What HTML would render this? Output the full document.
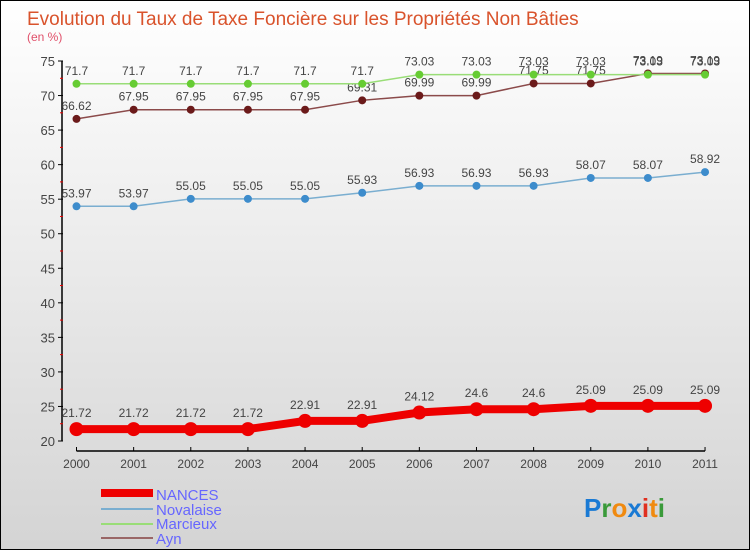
<!DOCTYPE html>
<html><head><meta charset="utf-8"><style>
body{margin:0}
#c{position:relative;width:750px;height:550px;box-sizing:border-box;border:1px solid #000;background:linear-gradient(#ffffff,#d4d4d4);font-family:"Liberation Sans",sans-serif;overflow:hidden}
</style></head><body>
<div id="c">
<svg id="s" width="750" height="550" style="position:absolute;left:0;top:0">
<text x="26" y="24" font-size="19" fill="#d9532c">Evolution du Taux de Taxe Foncière sur les Propriétés Non Bâties</text>
<text x="26" y="40" font-size="12" fill="#e0506a">(en %)</text>
<g id="axes"></g><g id="series"></g>
<g>
<rect x="100" y="488" width="52" height="8" fill="#e00"/>
<text x="155" y="499" font-size="15" fill="#6666ff">NANCES</text>
<rect x="100" y="507" width="52" height="2" fill="#7aaed0"/>
<text x="155" y="514" font-size="15" fill="#6666ff">Novalaise</text>
<rect x="100" y="522" width="52" height="2" fill="#99dd77"/>
<text x="155" y="528" font-size="15" fill="#6666ff">Marcieux</text>
<rect x="100" y="536" width="52" height="2" fill="#996666"/>
<text x="155" y="543" font-size="15" fill="#6666ff">Ayn</text>
</g>
<g font-size="26" font-weight="bold">
<text x="583" y="516"><tspan fill="#1a7ad4">P</tspan><tspan fill="#3a9a3a">r</tspan><tspan fill="#f08a10">o</tspan><tspan fill="#1a7ad4">x</tspan><tspan fill="#e03020">i</tspan><tspan fill="#f08a10">t</tspan><tspan fill="#3a9a3a">i</tspan></text>
</g>
</svg>
</div>
<script>
const years=["2000","2001","2002","2003","2004","2005","2006","2007","2008","2009","2010","2011"];
const yTicks=[20,25,30,35,40,45,50,55,60,65,70,75];
const nances=[21.72,21.72,21.72,21.72,22.91,22.91,24.12,24.6,24.6,25.09,25.09,25.09];
const novalaise=[53.97,53.97,55.05,55.05,55.05,55.93,56.93,56.93,56.93,58.07,58.07,58.92];
const marcieux=[71.7,71.7,71.7,71.7,71.7,71.7,73.03,73.03,73.03,73.03,73.03,73.03];
const ayn=[66.62,67.95,67.95,67.95,67.95,69.31,69.99,69.99,71.75,71.75,73.19,73.19];
const NS="http://www.w3.org/2000/svg";
const X=i=>75.5+i*57.14;
const Y=v=>440-(v-20)*(380/55);
function mk(t,a,p){const e=document.createElementNS(NS,t);for(const k in a)e.setAttribute(k,a[k]);p.appendChild(e);return e;}
const ax=document.getElementById('axes');
let yl=mk('line',{x1:61,y1:Y(20),x2:61,y2:Y(75),stroke:'#000','stroke-width':1.5},ax);


yTicks.forEach(t=>{
 mk('line',{x1:57,y1:Y(t),x2:62,y2:Y(t),stroke:'#000'},ax);
 if(t<75)mk('line',{x1:59,y1:Y(t+2.5),x2:62,y2:Y(t+2.5),stroke:'#e00'},ax);
 const tx=mk('text',{x:54,y:Y(t)+5,'text-anchor':'end','font-size':13,fill:'#444'},ax);
 tx.textContent=t;
 
 
});
let xl=mk('line',{x1:X(0),y1:450,x2:X(11),y2:450,stroke:'#000','stroke-width':1.5},ax);


years.forEach((y,i)=>{
 mk('line',{x1:X(i),y1:446,x2:X(i),y2:450,stroke:'#000'},ax);
 const tx=mk('text',{x:X(i),y:467,'text-anchor':'middle','font-size':12,fill:'#444'},ax);
 tx.textContent=y;
 
 
});
const sg=document.getElementById('series');
function series(name,data,color,dot,w,r){
 const g=mk('g',{},sg);
 
 
 const pl=mk('polyline',{points:data.map((v,i)=>X(i)+','+Y(v)).join(' '),fill:'none',stroke:color,'stroke-width':w},g);
 
 
 data.forEach((v,i)=>{
  const c=mk('circle',{cx:X(i),cy:Y(v),r:r,fill:dot},g);
  
  
  const t=mk('text',{x:X(i),y:Y(v)-(r+5),'text-anchor':'middle','font-size':12,fill:'#444'},g);
  t.textContent=String(v);
  
  
 });
}
series('ayn',ayn,'#8b4a4a','#6b1a1a',1.5,4);
series('marcieux',marcieux,'#99dd77','#66cc33',1.5,4);
series('novalaise',novalaise,'#7aaed0','#3d8ccc',1.5,4);
series('nances',nances,'#ee0000','#ee0000',8,7);
</script>
</body></html>
